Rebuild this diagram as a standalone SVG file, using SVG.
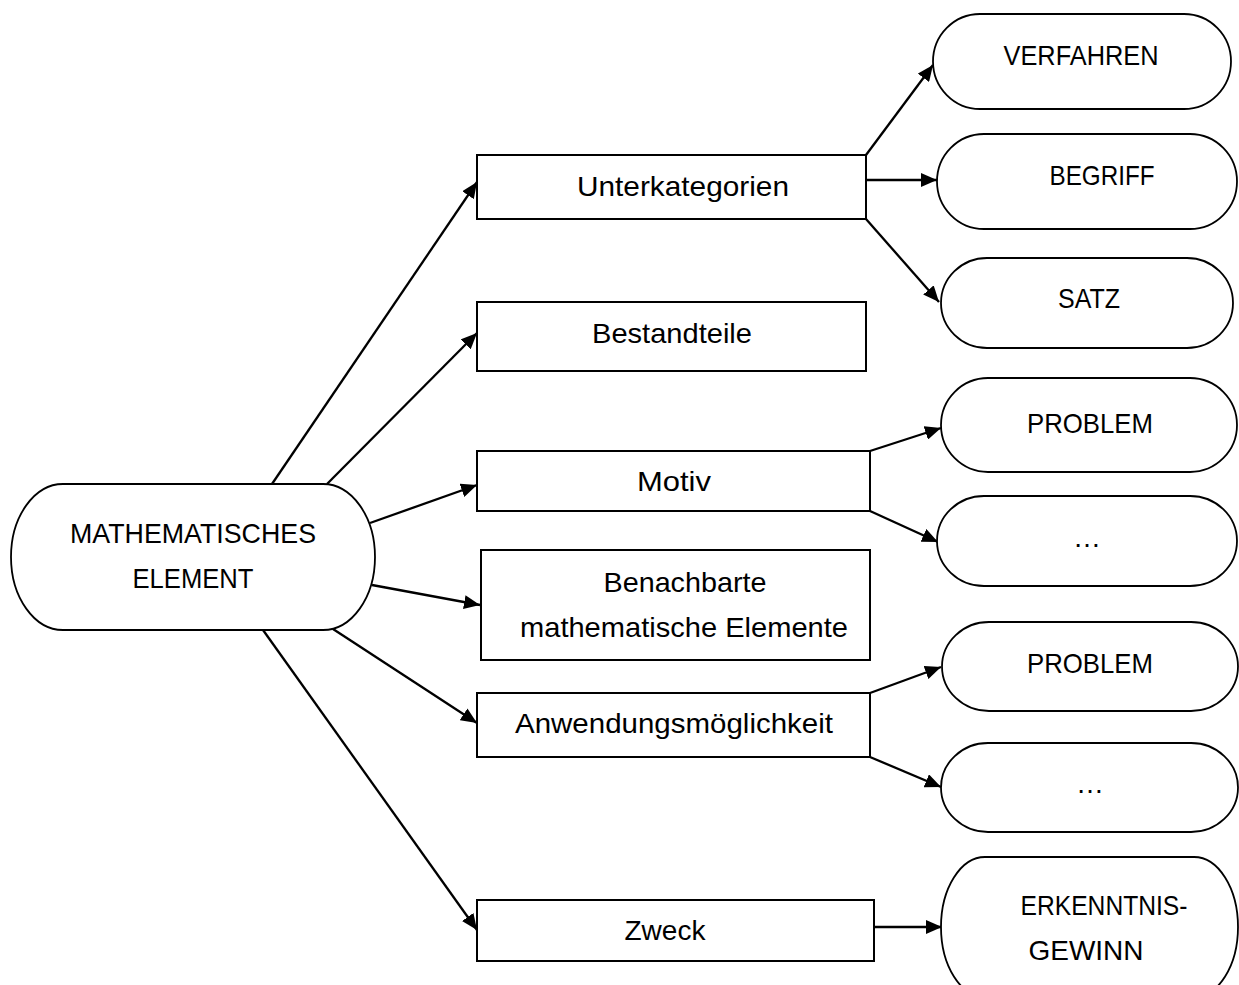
<svg xmlns="http://www.w3.org/2000/svg" width="1239" height="985" viewBox="0 0 1239 985">
<style>
.box{fill:#fff;stroke:#000;stroke-width:2}
.term{fill:#fff;stroke:#000;stroke-width:1.8}
.t{font-family:"Liberation Sans",Arial,sans-serif;font-size:28px;fill:#000;text-anchor:middle}
.c line{stroke:#000;stroke-width:2.3;marker-end:url(#ah)}
</style>
<defs>
<marker id="ah" markerUnits="userSpaceOnUse" markerWidth="17" markerHeight="14" refX="16" refY="7" orient="auto">
<path d="M0,0 L16,7 L0,14 z" fill="#000"/>
</marker>
</defs>
<rect width="1239" height="985" fill="#fff"/>
<g class="c" id="connectors">
<line x1="272" y1="484" x2="477" y2="182"/>
<line x1="327" y1="484" x2="477" y2="333"/>
<line x1="370" y1="523" x2="477" y2="485"/>
<line x1="372" y1="585" x2="480" y2="605"/>
<line x1="333" y1="629" x2="477" y2="723"/>
<line x1="263" y1="630" x2="477" y2="930"/>
<line x1="866" y1="155" x2="933" y2="65"/>
<line x1="866" y1="180" x2="937" y2="180"/>
<line x1="866" y1="219" x2="939" y2="302"/>
<line x1="870" y1="451" x2="941" y2="428"/>
<line x1="870" y1="511" x2="938" y2="542"/>
<line x1="870" y1="693" x2="941" y2="667"/>
<line x1="870" y1="757" x2="941" y2="787"/>
<line x1="874" y1="927" x2="942" y2="927"/>
</g>
<g id="n-main">
<rect class="term" x="11" y="484" width="364" height="146" rx="52" ry="73"/>
<text class="t" x="193" y="543" textLength="246" lengthAdjust="spacingAndGlyphs">MATHEMATISCHES</text>
<text class="t" x="193" y="588" textLength="121" lengthAdjust="spacingAndGlyphs">ELEMENT</text>
</g>
<g id="n-unter">
<rect class="box" x="477" y="155" width="389" height="64"/>
<text class="t" x="683" y="196" textLength="212" lengthAdjust="spacingAndGlyphs">Unterkategorien</text>
</g>
<g id="n-bestand">
<rect class="box" x="477" y="302" width="389" height="69"/>
<text class="t" x="672" y="343" textLength="160" lengthAdjust="spacingAndGlyphs">Bestandteile</text>
</g>
<g id="n-motiv">
<rect class="box" x="477" y="451" width="393" height="60"/>
<text class="t" x="674" y="491" textLength="74" lengthAdjust="spacingAndGlyphs">Motiv</text>
</g>
<g id="n-benach">
<rect class="box" x="481" y="550" width="389" height="110"/>
<text class="t" x="685" y="592" textLength="163" lengthAdjust="spacingAndGlyphs">Benachbarte</text>
<text class="t" x="684" y="637" textLength="328" lengthAdjust="spacingAndGlyphs">mathematische Elemente</text>
</g>
<g id="n-anwend">
<rect class="box" x="477" y="693" width="393" height="64"/>
<text class="t" x="674" y="733" textLength="318" lengthAdjust="spacingAndGlyphs">Anwendungsmöglichkeit</text>
</g>
<g id="n-zweck">
<rect class="box" x="477" y="900" width="397" height="61"/>
<text class="t" x="665" y="940" textLength="81" lengthAdjust="spacingAndGlyphs">Zweck</text>
</g>
<g id="n-verfahren">
<rect class="term" x="933" y="14" width="298" height="95" rx="47" ry="47.5"/>
<text class="t" x="1081" y="65" textLength="155" lengthAdjust="spacingAndGlyphs">VERFAHREN</text>
</g>
<g id="n-begriff">
<rect class="term" x="937" y="134" width="300" height="95" rx="47" ry="47.5"/>
<text class="t" x="1102" y="185" textLength="105" lengthAdjust="spacingAndGlyphs">BEGRIFF</text>
</g>
<g id="n-satz">
<rect class="term" x="941" y="258" width="292" height="90" rx="46" ry="45"/>
<text class="t" x="1089" y="308" textLength="62" lengthAdjust="spacingAndGlyphs">SATZ</text>
</g>
<g id="n-problem1">
<rect class="term" x="941" y="378" width="296" height="94" rx="47" ry="47"/>
<text class="t" x="1090" y="433" textLength="126" lengthAdjust="spacingAndGlyphs">PROBLEM</text>
</g>
<g id="n-dots1">
<rect class="term" x="937" y="496" width="300" height="90" rx="47" ry="45"/>
<text class="t" x="1087" y="547">…</text>
</g>
<g id="n-problem2">
<rect class="term" x="942" y="622" width="296" height="89" rx="47" ry="44.5"/>
<text class="t" x="1090" y="673" textLength="126" lengthAdjust="spacingAndGlyphs">PROBLEM</text>
</g>
<g id="n-dots2">
<rect class="term" x="941" y="743" width="297" height="89" rx="47" ry="44.5"/>
<text class="t" x="1090" y="793">…</text>
</g>
<g id="n-erkenntnis">
<rect class="term" x="941" y="857" width="297" height="140" rx="44" ry="70"/>
<text class="t" x="1104" y="915" textLength="167" lengthAdjust="spacingAndGlyphs">ERKENNTNIS-</text>
<text class="t" x="1086" y="960" textLength="115" lengthAdjust="spacingAndGlyphs">GEWINN</text>
</g>
</svg>
